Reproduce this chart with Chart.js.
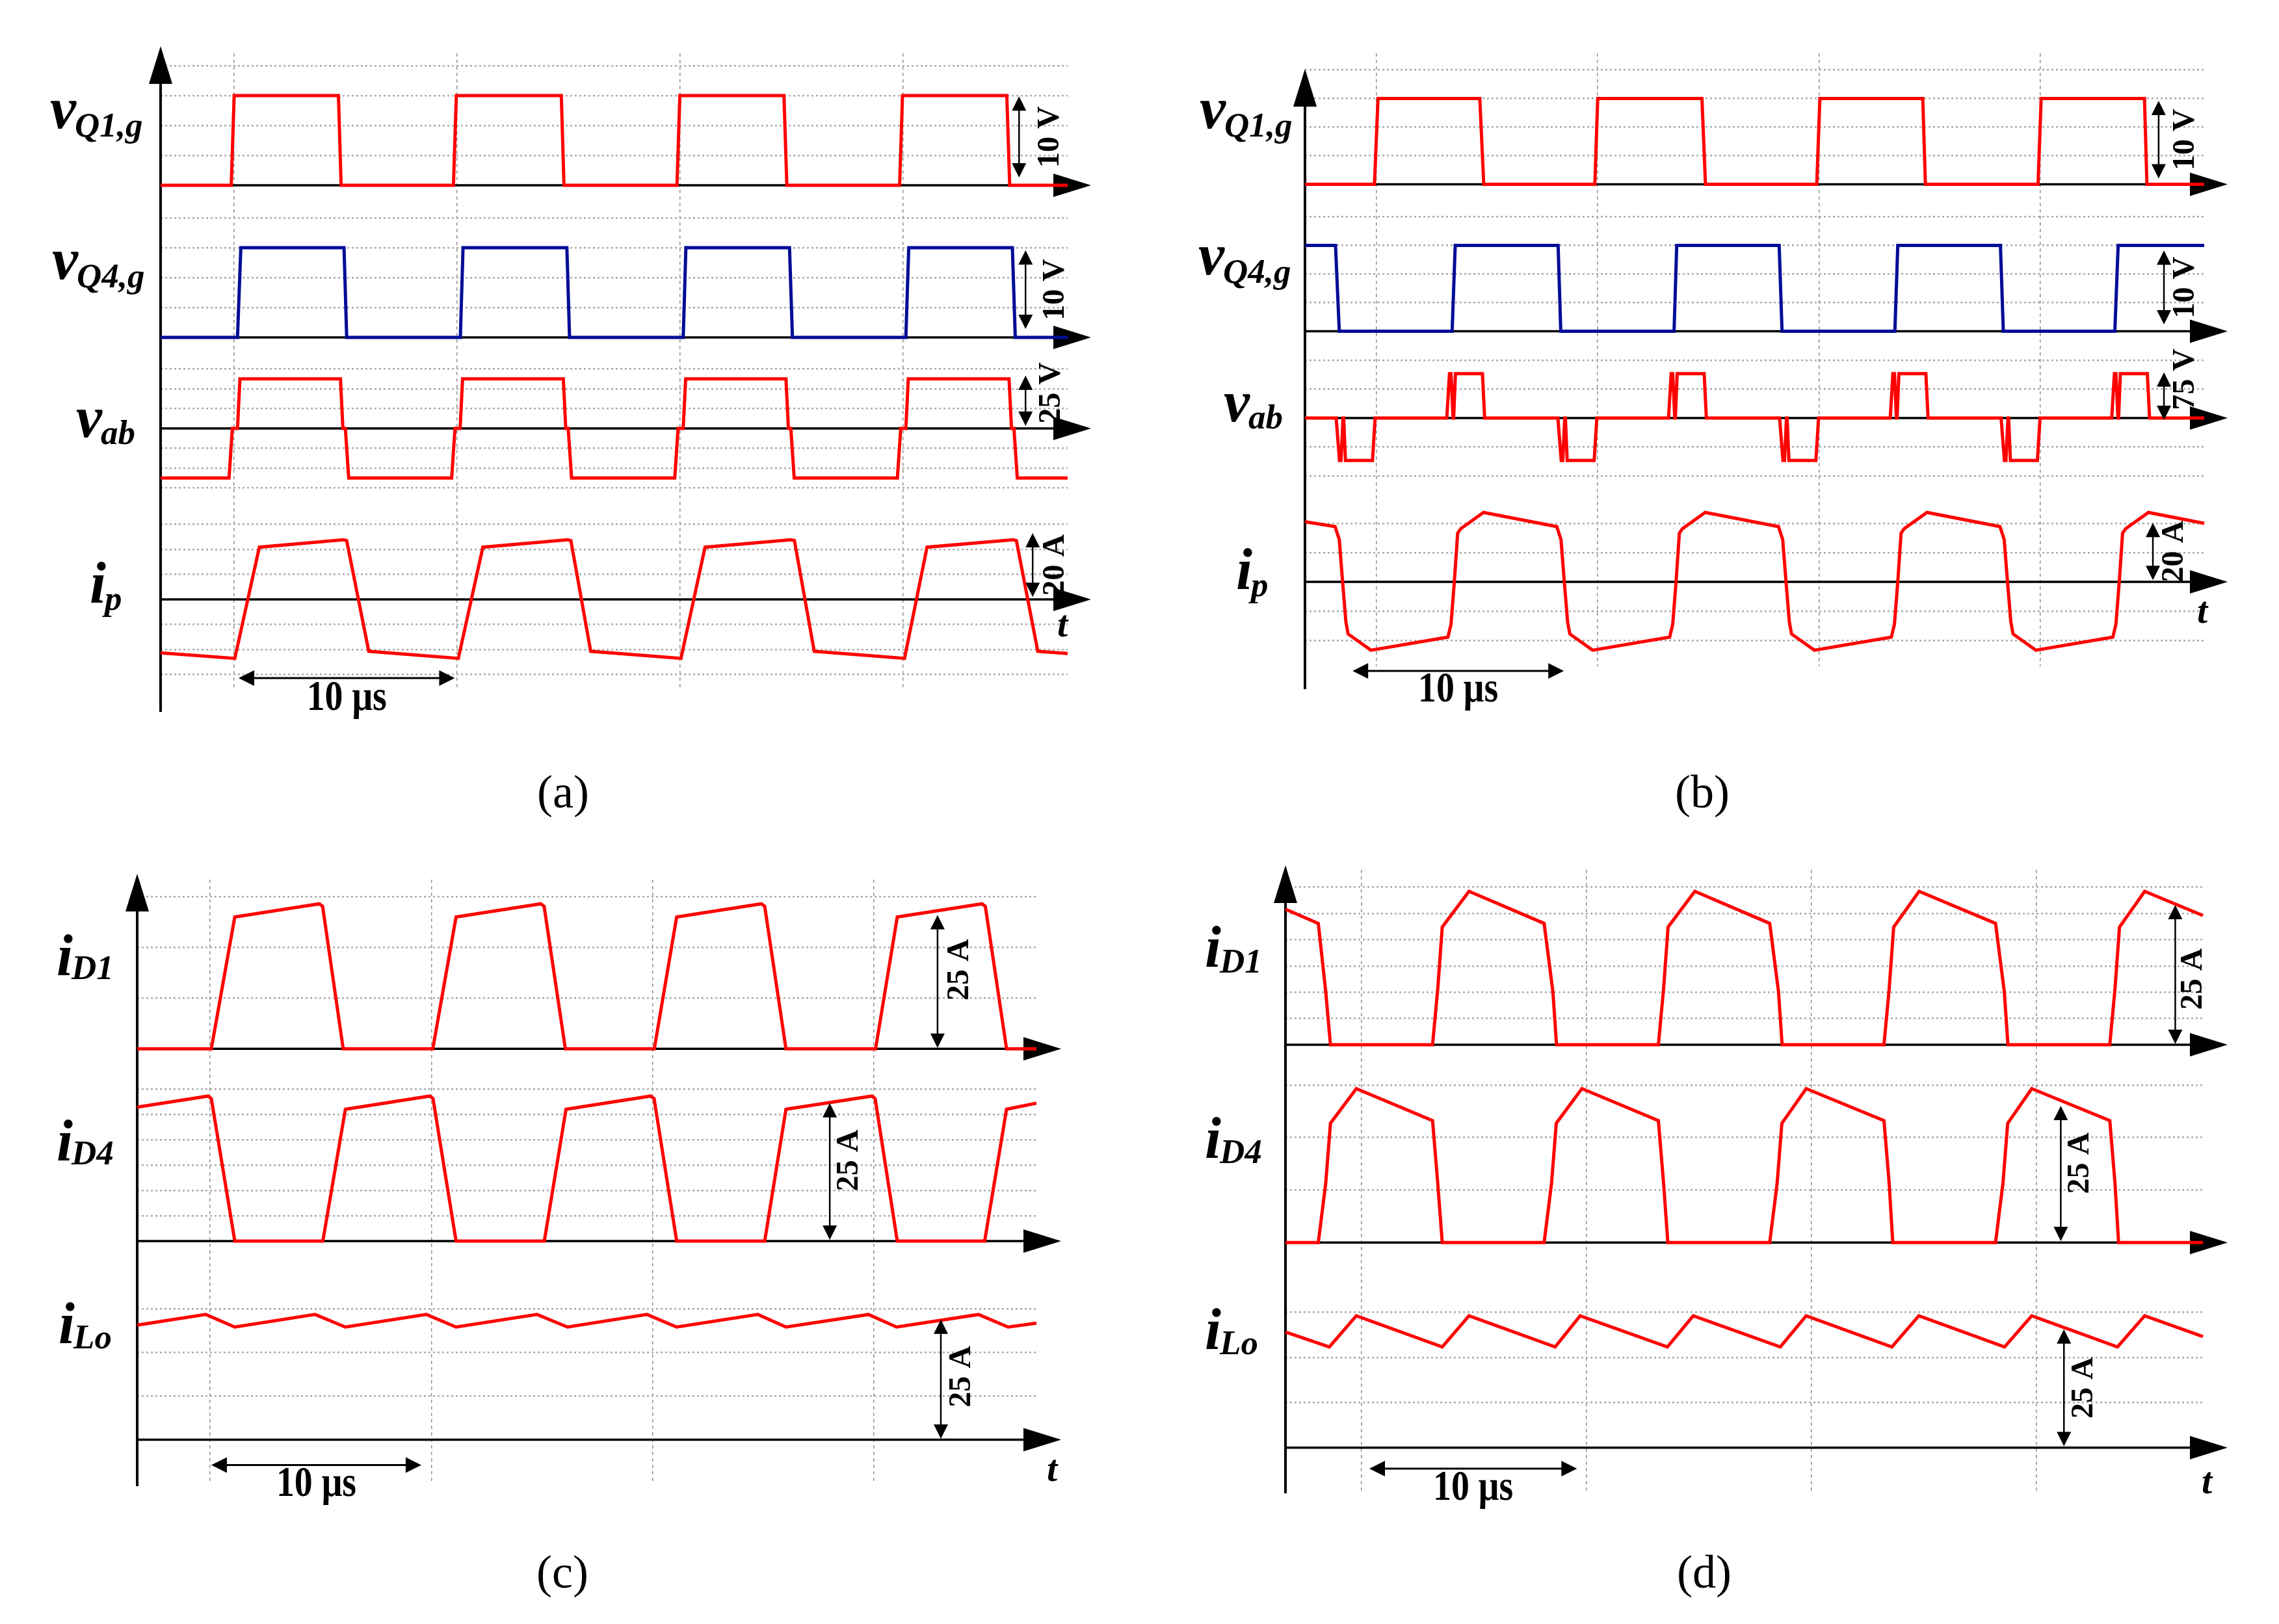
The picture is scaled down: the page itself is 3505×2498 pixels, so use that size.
<!DOCTYPE html>
<html>
<head>
<meta charset="utf-8">
<script src="https://cdn.jsdelivr.net/npm/chart.js@4.4.0/dist/chart.umd.min.js"></script>
<style>
  body { margin: 0; background: #fff; width: 3505px; height: 2498px; position: relative; overflow: hidden; }
  canvas { position: absolute; }
</style>
</head>
<body>
<canvas id="chartA" width="1752" height="1300" style="left:0;top:0"></canvas>
<canvas id="chartB" width="1753" height="1300" style="left:1752px;top:0"></canvas>
<canvas id="chartC" width="1752" height="1198" style="left:0;top:1300px"></canvas>
<canvas id="chartD" width="1753" height="1198" style="left:1752px;top:1300px"></canvas>
<script>
// time in microseconds, values in V or A

// (a)
const aT_vq1 = [0, 3.17, 3.3, 7.98, 8.1, 13.14, 13.27, 17.98, 18.1, 23.17, 23.3, 27.97, 28.1, 33.16, 33.29, 37.97, 38.1, 40.7];
const aV_vq1 = [0, 0, 12, 12, 0, 0, 12, 12, 0, 0, 12, 12, 0, 0, 12, 12, 0, 0];
const aT_vq4 = [0, 3.45, 3.6, 8.23, 8.35, 13.45, 13.57, 18.23, 18.35, 23.45, 23.57, 28.22, 28.35, 33.44, 33.57, 38.22, 38.35, 40.7];
const aV_vq4 = [0, 0, 12, 12, 0, 0, 12, 12, 0, 0, 12, 12, 0, 0, 12, 12, 0, 0];
const aT_vab = [0, 3.07, 3.22, 3.45, 3.56, 8.07, 8.18, 8.29, 8.44,
  13.06, 13.21, 13.44, 13.55, 18.07, 18.18, 18.29, 18.44,
  23.07, 23.22, 23.45, 23.56, 28.06, 28.17, 28.28, 28.43,
  33.06, 33.21, 33.44, 33.55, 38.07, 38.18, 38.29, 38.44, 40.7];
const aV_vab = [-25, -25, 0, 0, 25, 25, 0, 0, -25,
  -25, 0, 0, 25, 25, 0, 0, -25,
  -25, 0, 0, 25, 25, 0, 0, -25,
  -25, 0, 0, 25, 25, 0, 0, -25, -25];
const aT_ip = [0, 3.33, 4.43, 8.2, 8.35, 9.34, 13.36, 14.46, 18.26, 18.41, 19.3, 23.35, 24.43, 28.29, 28.44, 29.33, 33.38, 34.39, 38.25, 38.4, 39.36, 40.7];
const aV_ip = [-17.1, -18.85, 16.7, 19.05, 18.8, -16.6, -18.85, 16.7, 19.05, 18.8, -16.6, -18.85, 16.7, 19.05, 18.8, -16.6, -18.85, 16.7, 19.05, 18.8, -16.6, -17.3];

// (b)
const bT_vq1 = [0, 3.14, 3.3, 7.9, 8.08, 13.1, 13.23, 17.94, 18.1, 23.13, 23.27, 27.92, 28.04, 33.13, 33.27, 37.94, 38.05, 40.64];
const bV_vq1 = [0, 0, 12, 12, 0, 0, 12, 12, 0, 0, 12, 12, 0, 0, 12, 12, 0, 0];
const bT_vq4 = [0, 1.38, 1.55, 6.65, 6.79, 11.44, 11.56, 16.68, 16.8, 21.43, 21.56, 26.66, 26.79, 31.43, 31.56, 36.6, 36.75, 40.64];
const bV_vq4 = [12, 12, 0, 0, 12, 12, 0, 0, 12, 12, 0, 0, 12, 12, 0, 0, 12, 12];
const bT_vab = [0,
  1.41, 1.56, 1.63, 1.72, 1.75, 1.83, 3.05, 3.17,
  6.41, 6.53, 6.6, 6.69, 6.72, 6.8, 8.02, 8.12,
  11.43, 11.58, 11.65, 11.74, 11.77, 11.85, 13.07, 13.19,
  16.43, 16.55, 16.62, 16.71, 16.74, 16.82, 18.04, 18.14,
  21.45, 21.6, 21.67, 21.76, 21.79, 21.87, 23.09, 23.21,
  26.45, 26.57, 26.64, 26.73, 26.76, 26.84, 28.06, 28.16,
  31.46, 31.61, 31.68, 31.77, 31.8, 31.88, 33.1, 33.22,
  36.46, 36.58, 36.65, 36.74, 36.77, 36.85, 38.07, 38.17,
  40.64];
const bV_vab = [0,
  0, -66, -66, 0, 0, -66, -66, 0,
  0, 69, 69, 0, 0, 69, 69, 0,
  0, -66, -66, 0, 0, -66, -66, 0,
  0, 69, 69, 0, 0, 69, 69, 0,
  0, -66, -66, 0, 0, -66, -66, 0,
  0, 69, 69, 0, 0, 69, 69, 0,
  0, -66, -66, 0, 0, -66, -66, 0,
  0, 69, 69, 0, 0, 69, 69, 0,
  0];
const bT_ip = [0,
  1.36, 1.55, 1.7, 1.85, 1.95, 2.98, 6.46, 6.6, 6.75, 6.9, 7.04, 8.07,
  11.38, 11.57, 11.72, 11.87, 11.97, 13.0, 16.48, 16.62, 16.77, 16.92, 17.06, 18.09,
  21.4, 21.59, 21.74, 21.89, 21.99, 23.02, 26.5, 26.64, 26.79, 26.94, 27.08, 28.11,
  31.41, 31.6, 31.75, 31.9, 32.0, 33.03, 36.51, 36.65, 36.8, 36.95, 37.09, 38.12,
  40.64];
const bV_ip = [22.6,
  20.8, 15.9, 0, -15.1, -19.6, -25.7, -20.8, -15.9, 0, 18.3, 20.0, 26.1,
  20.8, 15.9, 0, -15.1, -19.6, -25.7, -20.8, -15.9, 0, 18.3, 20.0, 26.1,
  20.8, 15.9, 0, -15.1, -19.6, -25.7, -20.8, -15.9, 0, 18.3, 20.0, 26.1,
  20.8, 15.9, 0, -15.1, -19.6, -25.7, -20.8, -15.9, 0, 18.3, 20.0, 26.1,
  22.0];

// (c)
const cT_id1 = [0, 3.35, 4.41, 8.23, 8.38, 9.31, 13.36, 14.41, 18.24, 18.39, 19.35, 23.37, 24.38, 28.21, 28.36, 29.32, 33.37, 34.35, 38.18, 38.33, 39.29, 40.64];
const cV_id1 = [0, 0, 26, 28.6, 28.1, 0, 0, 26, 28.6, 28.1, 0, 0, 26, 28.6, 28.1, 0, 0, 26, 28.6, 28.1, 0, 0];
const cT_id4 = [0, 3.2, 3.35, 4.41, 8.39, 9.41, 13.22, 13.37, 14.41, 18.4, 19.38, 23.2, 23.36, 24.38, 28.36, 29.32, 33.2, 33.35, 34.35, 38.3, 39.29, 40.64];
const cV_id4 = [26.4, 28.6, 28.1, 0, 0, 26, 28.6, 28.1, 0, 0, 26, 28.6, 28.1, 0, 0, 26, 28.6, 28.1, 0, 0, 26, 27.2];
const cT_ilo = [0, 3.1, 4.41, 8.04, 9.41, 13.07, 14.41, 18.07, 19.45, 23.04, 24.38, 28.05, 29.32, 33.05, 34.32, 38.02, 39.36, 40.64];
const cV_ilo = [23.7, 25.9, 23.3, 25.9, 23.3, 25.9, 23.3, 25.9, 23.3, 25.9, 23.3, 25.9, 23.3, 25.9, 23.3, 25.9, 23.3, 24.1];

// (d)
const dT_id1 = [0, 1.46, 1.79, 2.0, 6.54, 6.77, 6.97, 8.16, 11.5, 11.89, 12.05, 16.58, 16.81, 17.01, 18.2, 21.53, 21.92, 22.08, 26.61, 26.84, 27.04, 28.17, 31.57, 31.96, 32.12, 36.65, 36.88, 37.08, 38.2, 40.79];
const dV_id1 = [25.8, 23.1, 10.1, 0, 0, 10.6, 22.4, 29.2, 23.1, 10.1, 0, 0, 10.6, 22.4, 29.2, 23.1, 10.1, 0, 0, 10.6, 22.4, 29.2, 23.1, 10.1, 0, 0, 10.6, 22.4, 29.2, 24.6];
const dT_id4 = [0, 1.46, 1.79, 2.0, 3.15, 6.54, 6.77, 6.97, 11.5, 11.83, 12.04, 13.18, 16.58, 16.81, 17.0, 21.53, 21.86, 22.07, 23.15, 26.61, 26.84, 27.0, 31.57, 31.9, 32.11, 33.18, 36.65, 36.88, 37.04, 40.79];
const dV_id4 = [0, 0, 11.3, 22.7, 29.3, 23.2, 11.3, 0, 0, 11.3, 22.7, 29.3, 23.2, 11.3, 0, 0, 11.3, 22.7, 29.3, 23.2, 11.3, 0, 0, 11.3, 22.7, 29.3, 23.2, 11.3, 0, 0];
const dT_ilo = [0, 1.95, 3.15, 6.97, 8.16, 11.99, 13.1, 16.98, 18.13, 22.0, 23.15, 26.96, 28.16, 31.97, 33.18, 36.99, 38.2, 40.79];
const dV_ilo = [25.6, 22.3, 29.2, 22.3, 29.2, 22.3, 29.2, 22.3, 29.2, 22.3, 29.2, 22.3, 29.2, 22.3, 29.2, 22.3, 29.2, 24.6];

const RED = '#ff0000';
const BLUE = '#000c98';
const SERIF = '"Liberation Serif", "Times New Roman", serif';

// layout of each panel (canvas pixels)
const panels = [
  {
    id: 'chartA', w: 1752, h: 1300,
    area: {left: 247, right: 1642, top: 82, bottom: 1060},
    xMax: 40.7, xGrid: [3.3, 13.3, 23.3, 33.3],
    axisTop: 71, axisBottom: 1095, tipX: 1678,
    traces: [
      {t: aT_vq1, v: aV_vq1, color: RED, zero: 285, k: 11.5, grid: [4, 8, 12, 16],
        label: {main: 'v', sub: 'Q1,g', x: 77, y: 197, dy: 13},
        amp: {t: 38.52, from: 1.04, to: 11.9, text: '10 V', dx: 48, dy: 0}},
      {t: aT_vq4, v: aV_vq4, color: BLUE, zero: 519, k: 11.5, grid: [4, 8, 12, 16],
        label: {main: 'v', sub: 'Q4,g', x: 80, y: 429, dy: 13},
        amp: {t: 38.81, from: 1.13, to: 11.65, text: '10 V', dx: 46, dy: 0}},
      {t: aT_vab, v: aV_vab, color: RED, zero: 659, k: 3.05, grid: [-30, -20, -10, 10, 20, 30],
        label: {main: 'v', sub: 'ab', x: 117, y: 672, dy: 11},
        amp: {t: 38.81, from: 1.3, to: 26.6, text: '25 V', dx: 40, dy: -12}},
      {t: aT_ip, v: aV_ip, color: RED, zero: 922, k: 4.81, grid: [-24, -16, -8, 8, 16, 24],
        label: {main: 'i', sub: 'p', x: 138, y: 927, dy: 11},
        amp: {t: 39.13, from: 0.8, to: 21.2, text: '20 A', dx: 35, dy: 0}}
    ],
    timeBar: {t1: 3.5, t2: 13.2, y: 1043, text: '10 μs', textY: 1092},
    tLabel: {x: 1626, y: 979},
    caption: {text: '(a)', x: 866, y: 1223}
  },
  {
    id: 'chartB', w: 1753, h: 1300,
    area: {left: 255, right: 1638, top: 82, bottom: 1025},
    xMax: 40.64, xGrid: [3.23, 13.23, 23.23, 33.23],
    axisTop: 106, axisBottom: 1060, tipX: 1674,
    traces: [
      {t: bT_vq1, v: bV_vq1, color: RED, zero: 283.6, k: 11, grid: [4, 8, 12, 16],
        label: {main: 'v', sub: 'Q1,g', x: 93, y: 197, dy: 13},
        amp: {t: 38.58, from: 0.83, to: 11.7, text: '10 V', dx: 42, dy: 0}},
      {t: bT_vq4, v: bV_vq4, color: BLUE, zero: 509.5, k: 11, grid: [4, 8, 12, 16],
        label: {main: 'v', sub: 'Q4,g', x: 91, y: 422, dy: 13},
        amp: {t: 38.82, from: 0.95, to: 11.3, text: '10 V', dx: 34, dy: 0}},
      {t: bT_vab, v: bV_vab, color: RED, zero: 643, k: 0.99, grid: [-90, -45, 45, 90],
        label: {main: 'v', sub: 'ab', x: 130, y: 648, dy: 11},
        amp: {t: 38.82, from: -3, to: 71, text: '75 V', dx: 34, dy: -26}},
      {t: bT_ip, v: bV_ip, color: RED, zero: 895, k: 4.09, grid: [-22, -11, 11, 22],
        label: {main: 'i', sub: 'p', x: 149, y: 906, dy: 11},
        amp: {t: 38.32, from: 0.7, to: 22.2, text: '20 A', dx: 34, dy: 0}}
    ],
    timeBar: {t1: 2.15, t2: 11.7, y: 1032, text: '10 μs', textY: 1079},
    tLabel: {x: 1627, y: 958},
    caption: {text: '(b)', x: 866, y: 1223}
  },
  {
    id: 'chartC', w: 1752, h: 1198,
    area: {left: 211, right: 1594, top: 53, bottom: 978},
    xMax: 40.64, xGrid: [3.29, 13.29, 23.29, 33.29],
    axisTop: 44, axisBottom: 986, tipX: 1632,
    traces: [
      {t: cT_id1, v: cV_id1, color: RED, zero: 313.3, k: 7.8, grid: [10, 20, 30],
        label: {main: 'i', sub: 'D1', x: 87, y: 200, dy: 6},
        amp: {t: 36.17, from: 0.2, to: 26.4, text: '25 A', dx: 35, dy: -18}},
      {t: cT_id4, v: cV_id4, color: RED, zero: 609, k: 7.8, grid: [5, 10, 15, 20, 25, 30],
        label: {main: 'i', sub: 'D4', x: 87, y: 485, dy: 6},
        amp: {t: 31.3, from: 0.25, to: 27.2, text: '25 A', dx: 30, dy: -17}},
      {t: cT_ilo, v: cV_ilo, color: RED, zero: 914.6, k: 7.44, grid: [9, 18, 27],
        label: {main: 'i', sub: 'Lo', x: 90, y: 766, dy: 8},
        amp: {t: 36.32, from: 0.2, to: 24.85, text: '25 A', dx: 33, dy: -4}}
    ],
    timeBar: {t1: 3.35, t2: 12.84, y: 953.5, text: '10 μs', textY: 1001},
    tLabel: {x: 1610, y: 978},
    caption: {text: '(c)', x: 865, y: 1123}
  },
  {
    id: 'chartD', w: 1753, h: 1198,
    area: {left: 225, right: 1636, top: 38, bottom: 993},
    xMax: 40.79, xGrid: [3.37, 13.37, 23.37, 33.37],
    axisTop: 31, axisBottom: 997, tipX: 1674,
    traces: [
      {t: dT_id1, v: dV_id1, color: RED, zero: 307, k: 8.08, grid: [5, 10, 15, 20, 25, 30],
        label: {main: 'i', sub: 'D1', x: 101, y: 187, dy: 9},
        amp: {t: 39.56, from: 0.17, to: 26.6, text: '25 A', dx: 28, dy: 7}},
      {t: dT_id4, v: dV_id4, color: RED, zero: 611.2, k: 8.08, grid: [10, 20, 30],
        label: {main: 'i', sub: 'D4', x: 101, y: 481, dy: 8},
        amp: {t: 34.47, from: 0.27, to: 26.0, text: '25 A', dx: 30, dy: -16}},
      {t: dT_ilo, v: dV_ilo, color: RED, zero: 926.8, k: 6.95, grid: [10, 20, 30],
        label: {main: 'i', sub: 'Lo', x: 101, y: 775, dy: 8},
        amp: {t: 34.61, from: 0.33, to: 26.2, text: '25 A', dx: 31, dy: 0}}
    ],
    timeBar: {t1: 3.73, t2: 12.96, y: 959, text: '10 μs', textY: 1007},
    tLabel: {x: 1634, y: 997},
    caption: {text: '(d)', x: 869, y: 1123}
  }
];

// filled arrow head with its tip at (x, y), pointing along (ux, uy)
function head(ctx, x, y, ux, uy, len, half) {
  const bx = x - ux * len, by = y - uy * len;
  ctx.beginPath();
  ctx.moveTo(x, y);
  ctx.lineTo(bx - uy * half, by + ux * half);
  ctx.lineTo(bx + uy * half, by - ux * half);
  ctx.closePath();
  ctx.fill();
}

function makeOverlay(p) {
  return {
    id: 'overlay' + p.id,
    beforeDatasetsDraw(chart) {
      const ctx = chart.ctx;
      const a = chart.chartArea;
      ctx.save();
      ctx.fillStyle = '#000';
      ctx.strokeStyle = '#000';
      ctx.lineWidth = 4;
      ctx.beginPath();
      ctx.moveTo(a.left, p.axisTop + 40);
      ctx.lineTo(a.left, p.axisBottom);
      ctx.stroke();
      head(ctx, a.left, p.axisTop, 0, -1, 58, 18);
      p.traces.forEach((tr, i) => {
        const y = chart.scales['y' + i].getPixelForValue(0);
        ctx.lineWidth = 3.5;
        ctx.beginPath();
        ctx.moveTo(a.left, y);
        ctx.lineTo(p.tipX - 40, y);
        ctx.stroke();
        head(ctx, p.tipX, y, 1, 0, 58, 18);
      });
      ctx.restore();
    },
    afterDatasetsDraw(chart) {
      const ctx = chart.ctx;
      const xs = chart.scales.x;
      ctx.save();
      ctx.fillStyle = '#000';
      ctx.strokeStyle = '#000';
      p.traces.forEach((tr, i) => {
        const ys = chart.scales['y' + i];
        const L = tr.label;
        ctx.textAlign = 'left';
        ctx.textBaseline = 'alphabetic';
        ctx.font = 'italic bold 90px ' + SERIF;
        ctx.fillText(L.main, L.x, L.y);
        const w = ctx.measureText(L.main).width;
        ctx.font = 'italic bold 53px ' + SERIF;
        ctx.fillText(L.sub, L.x + w - 2, L.y + L.dy);

        const A = tr.amp;
        const ax = xs.getPixelForValue(A.t);
        const y1 = ys.getPixelForValue(A.from);
        const y2 = ys.getPixelForValue(A.to);
        ctx.lineWidth = 2.5;
        ctx.beginPath();
        ctx.moveTo(ax, y1 - 12);
        ctx.lineTo(ax, y2 + 12);
        ctx.stroke();
        head(ctx, ax, y1, 0, 1, 22, 11);
        head(ctx, ax, y2, 0, -1, 22, 11);
        ctx.save();
        ctx.translate(ax + A.dx, (y1 + y2) / 2 + A.dy);
        ctx.rotate(-Math.PI / 2);
        ctx.font = 'bold 48px ' + SERIF;
        ctx.textAlign = 'center';
        ctx.textBaseline = 'middle';
        ctx.fillText(A.text, 0, 0);
        ctx.restore();
      });

      const T = p.timeBar;
      const x1 = xs.getPixelForValue(T.t1);
      const x2 = xs.getPixelForValue(T.t2);
      ctx.lineWidth = 3;
      ctx.beginPath();
      ctx.moveTo(x1 + 12, T.y);
      ctx.lineTo(x2 - 12, T.y);
      ctx.stroke();
      head(ctx, x1, T.y, -1, 0, 24, 12);
      head(ctx, x2, T.y, 1, 0, 24, 12);
      ctx.save();
      ctx.translate((x1 + x2) / 2, T.textY);
      ctx.scale(0.9, 1.05);
      ctx.font = 'bold 62px ' + SERIF;
      ctx.textAlign = 'center';
      ctx.textBaseline = 'alphabetic';
      ctx.fillText(T.text, 0, 0);
      ctx.restore();

      ctx.font = 'italic bold 58px ' + SERIF;
      ctx.textAlign = 'left';
      ctx.textBaseline = 'alphabetic';
      ctx.fillText('t', p.tLabel.x, p.tLabel.y);

      ctx.font = '72px ' + SERIF;
      ctx.textAlign = 'center';
      ctx.textBaseline = 'middle';
      ctx.fillText(p.caption.text, p.caption.x, p.caption.y);
      ctx.restore();
    }
  };
}

panels.forEach(p => {
  const scales = {
    x: {
      type: 'linear', position: 'bottom', min: 0, max: p.xMax,
      afterBuildTicks: s => { s.ticks = p.xGrid.map(v => ({value: v})); },
      afterFit: s => { s.height = 0; },
      ticks: {display: false},
      border: {display: false, dash: [5, 5]},
      grid: {color: '#8f8f8f', lineWidth: 1.5, drawTicks: false}
    }
  };
  p.traces.forEach((tr, i) => {
    scales['y' + i] = {
      type: 'linear', position: 'left',
      min: -(p.area.bottom - tr.zero) / tr.k,
      max: (tr.zero - p.area.top) / tr.k,
      afterBuildTicks: s => { s.ticks = tr.grid.map(v => ({value: v})); },
      afterFit: s => { s.width = 0; },
      ticks: {display: false},
      border: {display: false, dash: [3, 4]},
      grid: {color: '#ababab', lineWidth: 2.5, drawTicks: false}
    };
  });

  const datasets = p.traces.map((tr, i) => ({
    data: tr.t.map((x, j) => ({x: x, y: tr.v[j]})),
    xAxisID: 'x',
    yAxisID: 'y' + i,
    borderColor: tr.color,
    borderWidth: 5,
    borderJoinStyle: 'miter',
    pointRadius: 0,
    tension: 0,
    fill: false,
    clip: false
  }));

  new Chart(document.getElementById(p.id), {
    type: 'line',
    data: {datasets: datasets},
    options: {
      responsive: false,
      devicePixelRatio: 1,
      animation: false,
      events: [],
      layout: {
        padding: {
          left: p.area.left,
          right: p.w - p.area.right,
          top: p.area.top,
          bottom: p.h - p.area.bottom
        }
      },
      scales: scales,
      plugins: {
        legend: {display: false},
        tooltip: {enabled: false},
        title: {display: false}
      }
    },
    plugins: [makeOverlay(p)]
  });
});
</script>
</body>
</html>
